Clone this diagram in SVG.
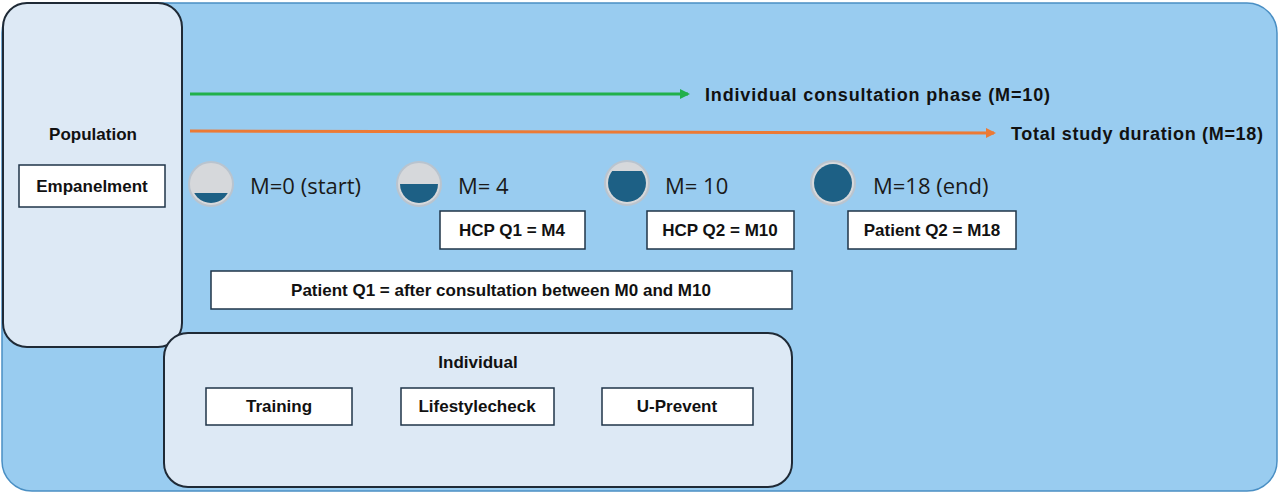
<svg xmlns="http://www.w3.org/2000/svg" width="1280" height="494" viewBox="0 0 1280 494">
<style>
.b{font-family:"Liberation Sans",Arial,sans-serif;font-weight:bold;font-size:17px;fill:#111}
.m{font-family:"Open Sans","Noto Sans",sans-serif;font-size:22px;fill:#1a1a1a}
.box{fill:#fff;stroke:#1f3448;stroke-width:1.5}
.panel{fill:#dde9f5;stroke:#1f2a36;stroke-width:2}
.ring{fill:#d6d8db;stroke:#b9c4cf;stroke-width:2}
.fill{fill:#1d6085}
</style>
<defs>
<marker id="ag" markerWidth="10" markerHeight="10" refX="8" refY="5" orient="auto" markerUnits="userSpaceOnUse"><path d="M0,0L10,5L0,10z" fill="#21b04b"/></marker>
<marker id="ao" markerWidth="10" markerHeight="10" refX="8" refY="5" orient="auto" markerUnits="userSpaceOnUse"><path d="M0,0L10,5L0,10z" fill="#ec7a35"/></marker>
<clipPath id="c0"><rect x="180" y="193" width="60" height="40"/></clipPath>
<clipPath id="c4"><rect x="390" y="184" width="60" height="40"/></clipPath>
<clipPath id="c10"><rect x="600" y="171" width="60" height="40"/></clipPath>
</defs>
<rect x="2" y="3" width="1275" height="488" rx="30" fill="#99ccf0" stroke="#4a8fc4" stroke-width="1.5"/>
<g id="population">
<rect class="panel" x="3" y="3" width="179" height="344" rx="24"/>
<text class="b" x="93" y="140" text-anchor="middle">Population</text>
<rect class="box" x="19" y="165" width="146" height="42"/>
<text class="b" x="92" y="192" text-anchor="middle">Empanelment</text>
</g>
<g id="individual">
<rect class="panel" x="164" y="333" width="628" height="154" rx="24"/>
<text class="b" x="478" y="368" text-anchor="middle">Individual</text>
<rect class="box" x="206" y="388" width="146" height="37"/>
<text class="b" x="279" y="412" text-anchor="middle">Training</text>
<rect class="box" x="401" y="388" width="153" height="37"/>
<text class="b" x="477" y="412" text-anchor="middle">Lifestylecheck</text>
<rect class="box" x="602" y="388" width="151" height="37"/>
<text class="b" x="677" y="412" text-anchor="middle">U-Prevent</text>
</g>
<g id="connectors">
<line x1="190" y1="94" x2="688" y2="94" stroke="#21b04b" stroke-width="3" marker-end="url(#ag)"/>
<line x1="190" y1="131" x2="994" y2="133" stroke="#ec7a35" stroke-width="3" marker-end="url(#ao)"/>
</g>
<text class="b" x="705" y="101" style="font-size:18px" textLength="345">Individual consultation phase (M=10)</text>
<text class="b" x="1011" y="140" style="font-size:18px" textLength="252">Total study duration (M=18)</text>
<g id="m0"><circle class="ring" cx="211" cy="184" r="22"/><circle class="fill" cx="211" cy="184" r="19" clip-path="url(#c0)"/><text class="m" x="250" y="194">M=0 (start)</text></g>
<g id="m4"><circle class="ring" cx="419" cy="184" r="22"/><circle class="fill" cx="419" cy="184" r="19" clip-path="url(#c4)"/><text class="m" x="458" y="194">M= 4</text></g>
<g id="m10"><circle class="ring" cx="627" cy="183" r="22"/><circle class="fill" cx="627" cy="183" r="19" clip-path="url(#c10)"/><text class="m" x="665" y="194">M= 10</text></g>
<g id="m18"><circle class="ring" cx="833" cy="183" r="22"/><circle class="fill" cx="833" cy="183" r="19"/><text class="m" x="873" y="194">M=18 (end)</text></g>
<g id="hcpq1"><rect class="box" x="440" y="211" width="145" height="38"/><text class="b" x="512" y="236" text-anchor="middle">HCP Q1 = M4</text></g>
<g id="hcpq2"><rect class="box" x="647" y="211" width="147" height="38"/><text class="b" x="720" y="236" text-anchor="middle">HCP Q2 = M10</text></g>
<g id="patq2"><rect class="box" x="848" y="211" width="168" height="38"/><text class="b" x="932" y="236" text-anchor="middle">Patient Q2 = M18</text></g>
<g id="patq1"><rect class="box" x="211" y="271" width="581" height="38"/><text class="b" x="501" y="296" text-anchor="middle">Patient Q1 = after consultation between M0 and M10</text></g>
</svg>
